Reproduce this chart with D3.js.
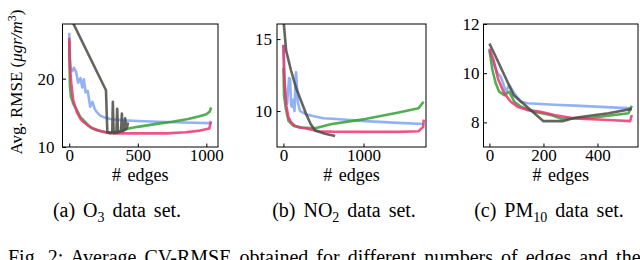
<!DOCTYPE html>
<html>
<head>
<meta charset="utf-8">
<script src="https://cdn.jsdelivr.net/npm/d3@7"></script>
<style>
  body { margin: 0; background: #fff; }
  text { font-family: "Liberation Serif", "Times New Roman", serif; fill: #000; }
</style>
</head>
<body>
<svg id="canvas" width="640" height="260"></svg>
<script>
const serif = '"Liberation Serif", "Times New Roman", serif';

// series colours, same order in every panel
const seriesNames = ["blue", "green", "pink", "gray"];
const seriesColors = ["#7fa5f3", "#35a035", "#ec3574", "#4a4a44"];

// (a) O3
const o3Ticks = { x: [0, 500, 1000], y: [10, 20] };
const o3Blue = [[0,26.7],[5,23],[12,21.5],[22,21.1],[35,21.6],[50,21.0],[65,19.4],[82,20.1],[95,18.7],[107,19.9],[119,18.0],[135,18.2],[153,15.9],[170,16.6],[185,15.6],[201,15.1],[226,14.6],[260,14.3],[300,14.1],[400,13.9],[500,13.8],[700,13.65],[900,13.55],[1030,13.5],[1035,13.8]];
const o3Green = [[0,25.5],[5,19],[12,17.4],[30,16.3],[56,15.4],[80,14.4],[128,13.4],[160,12.8],[201,12.45],[274,12.15],[330,12.2],[371,12.3],[432,12.7],[500,12.95],[626,13.35],[750,13.7],[868,14.1],[950,14.5],[1000,14.8],[1025,15.2],[1035,15.8]];
const o3Pink = [[0,26],[5,22],[15,19.3],[30,16.8],[56,15.1],[80,14.2],[104,13.65],[140,13.1],[177,12.7],[230,12.3],[274,12.1],[350,12.0],[468,12.0],[600,12.0],[711,12.0],[850,12.15],[954,12.4],[1022,12.7],[1032,13.7]];
const o3Gray = [[0,29.3],[268,18.3],[278,12.2],[300,12.0],[314,12.1],[318,16.6],[324,12.0],[344,12.1],[350,15.6],[356,12.1],[378,12.3],[384,14.9],[390,12.3],[403,12.5],[408,14.2],[413,12.6],[422,12.9],[429,13.6]];

// (b) NO2
const no2Ticks = { x: [0, 1000], y: [10, 15] };
const no2Blue = [[0,14.6],[12,12.1],[30,10.9],[46,10.5],[71,12.3],[84,12.2],[96,10.4],[105,10.3],[125,10.8],[138,10.0],[154,12.6],[159,12.7],[179,10.6],[209,10.0],[284,9.77],[367,9.65],[500,9.5],[659,9.45],[1021,9.3],[1438,9.18],[1750,9.1]];
const no2Green = [[0,13.0],[8,11.1],[29,10.2],[63,9.32],[125,8.97],[229,8.85],[396,8.8],[604,9.1],[1021,9.44],[1438,9.9],[1688,10.2],[1750,10.65]];
const no2Pink = [[0,14.6],[8,13],[20,11.5],[35,10.4],[63,9.55],[100,9.2],[146,8.97],[200,8.85],[271,8.8],[438,8.6],[604,8.57],[1021,8.55],[1438,8.55],[1688,8.6],[1745,8.9],[1752,9.4]];
const no2Gray = [[0,16.4],[34,14.2],[96,12.8],[159,11.6],[221,10.7],[284,9.8],[340,9.1],[396,8.65],[521,8.42],[646,8.26]];

// (c) PM10
const pmTicks = { x: [0, 200, 400], y: [8, 10, 12] };
const pmBlue = [[0,10.9],[11,10.54],[30,10.0],[42,9.86],[61,9.25],[73,9.52],[92,9.18],[116,8.84],[141,8.78],[240,8.72],[317,8.68],[527,8.57]];
const pmGreen = [[0,10.95],[11,10.13],[23,9.6],[36,9.25],[55,9.11],[73,9.25],[92,8.84],[116,8.64],[165,8.43],[227,8.3],[268,8.15],[379,8.19],[515,8.37],[527,8.68]];
const pmPink = [[0,11.0],[15,10.54],[33,9.73],[55,9.18],[79,8.84],[104,8.64],[141,8.5],[190,8.43],[240,8.3],[317,8.16],[441,8.1],[521,8.05],[527,8.3]];
const pmGray = [[0,11.2],[20,10.75],[90,9.1],[200,8.05],[270,8.05],[317,8.19],[441,8.37],[527,8.55]];

const captions = [
  { pre: "(a) O", sub: "3", post: " data set." },
  { pre: "(b) NO", sub: "2", post: " data set." },
  { pre: "(c) PM", sub: "10", post: " data set." },
];

const panels = [
  { left: 62.5, right: 218, xDomain: [-49, 1085], yDomain: [10, 28], ticks: o3Ticks, series: [o3Blue, o3Green, o3Pink, o3Gray], capX: 117, yPad: 8 },
  { left: 277, right: 426, xDomain: [-80, 1780], yDomain: [7.5, 16.05], ticks: no2Ticks, series: [no2Blue, no2Green, no2Pink, no2Gray], capX: 344, yPad: 5 },
  { left: 483.5, right: 638, xDomain: [-22, 550], yDomain: [7, 12], ticks: pmTicks, series: [pmBlue, pmGreen, pmPink, pmGray], capX: 549, yPad: 4 },
];
const plotTop = 24, plotBottom = 147;

const svg = d3.select("#canvas");

panels.forEach((p, i) => {
  const x = d3.scaleLinear().domain(p.xDomain).range([p.left, p.right]);
  const y = d3.scaleLinear().domain(p.yDomain).range([plotBottom, plotTop]);
  const g = svg.append("g");

  svg.append("clipPath").attr("id", "clip" + i)
    .append("rect")
    .attr("x", p.left).attr("y", plotTop)
    .attr("width", p.right - p.left).attr("height", plotBottom - plotTop);

  const line = d3.line().x((d) => x(d[0])).y((d) => y(d[1]));
  g.append("g").attr("clip-path", `url(#clip${i})`)
    .selectAll("path")
    .data(p.series)
    .enter()
    .append("path")
    .attr("d", line)
    .attr("fill", "none")
    .attr("stroke", (d, k) => seriesColors[k])
    .attr("stroke-width", 2.6)
    .attr("stroke-opacity", 0.85)
    .attr("stroke-linejoin", "round");

  // ticks point inward
  const xAxis = g.append("g").attr("transform", `translate(0,${plotBottom})`)
    .call(d3.axisBottom(x).tickValues(p.ticks.x).tickFormat(d3.format("d")).tickSize(-3.5).tickPadding(1.5));
  const yAxis = g.append("g").attr("transform", `translate(${p.left},0)`)
    .call(d3.axisLeft(y).tickValues(p.ticks.y).tickFormat(d3.format("d")).tickSize(-3.5).tickPadding(p.yPad));
  [xAxis, yAxis].forEach((a) => {
    a.select(".domain").remove();
    a.attr("font-family", serif).attr("font-size", 17);
    a.selectAll("line").attr("stroke", "#000");
  });

  g.append("rect")
    .attr("x", p.left).attr("y", plotTop)
    .attr("width", p.right - p.left).attr("height", plotBottom - plotTop)
    .attr("fill", "none").attr("stroke", "#000").attr("stroke-width", 1);

  g.append("text")
    .attr("x", (p.left + p.right) / 2).attr("y", 181)
    .attr("text-anchor", "middle")
    .attr("font-family", serif)
    .style("font-size", "18px")
    .style("word-spacing", "2px")
    .text("# edges");

  const cap = svg.append("text")
    .attr("x", p.capX).attr("y", 217)
    .attr("text-anchor", "middle")
    .attr("font-family", serif)
    .style("font-size", "20px")
    .style("word-spacing", "3px");
  cap.append("tspan").text(captions[i].pre);
  cap.append("tspan").attr("dy", 5).style("font-size", "14px").text(captions[i].sub);
  cap.append("tspan").attr("dy", -5).text(captions[i].post);
});

// y label
const yl = svg.append("text")
  .attr("transform", "translate(22,82) rotate(-90)")
  .attr("text-anchor", "middle")
  .attr("font-family", serif)
  .style("font-size", "17px");
yl.append("tspan").text("Avg. RMSE (");
yl.append("tspan").style("font-style", "italic").text("μgr/m");
yl.append("tspan").attr("dy", -6).style("font-size", "12px").text("3");
yl.append("tspan").attr("dy", 6).text(")");

// figure caption, cut by the bottom edge as in the source
svg.append("text")
  .attr("x", 8).attr("y", 264)
  .attr("font-family", serif)
  .style("font-size", "20px")
  .style("word-spacing", "3px")
  .text("Fig. 2:   Average CV-RMSE obtained for different numbers of edges and the");
</script>
</body>
</html>
